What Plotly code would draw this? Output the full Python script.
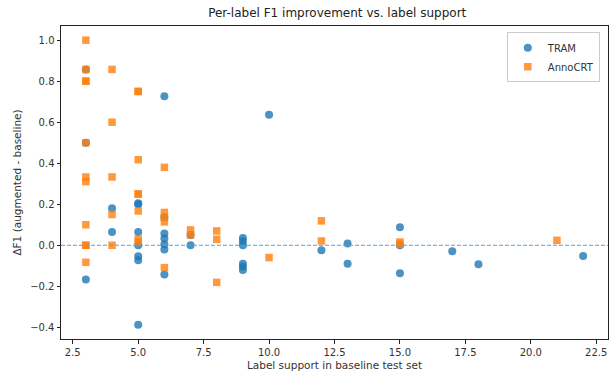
import plotly.graph_objects as go

# TRAM series
tram_support = [3, 3, 3,
                4, 4,
                5, 5, 5, 5, 5, 5, 5,
                6, 6, 6, 6, 6, 6, 6,
                7, 7,
                9, 9, 9, 9, 9, 9,
                10, 12, 13, 13,
                15, 15, 15,
                17, 18, 22]
tram_delta = [0.857, 0.5, -0.167,
              0.18, 0.065,
              0.2, 0.205, 0.065, 0.0, -0.054, -0.073, -0.388,
              0.726, 0.136, 0.057, 0.033, 0.005, -0.021, -0.143,
              0.05, 0.0,
              0.035, 0.02, 0.0, -0.09, -0.105, -0.12,
              0.636, -0.024, 0.008, -0.09,
              0.088, 0.0, -0.136,
              -0.029, -0.093, -0.052]

# AnnoCRT series
anno_support = [3, 3, 3, 3, 3, 3, 3, 3, 3, 3, 3,
                4, 4, 4, 4, 4,
                5, 5, 5, 5, 5, 5, 5, 5,
                6, 6, 6, 6, 6,
                7, 7,
                8, 8, 8,
                10, 12, 12,
                15, 15, 21]
anno_delta = [1.0, 0.857, 0.8, 0.8, 0.5, 0.333, 0.31, 0.1, 0.0, 0.0, -0.083,
              0.857, 0.6, 0.333, 0.15, 0.0,
              0.75, 0.75, 0.417, 0.25, 0.25, 0.167, 0.03, 0.015,
              0.38, 0.16, 0.136, 0.114, -0.109,
              0.075, 0.05,
              0.07, 0.029, -0.181,
              -0.06, 0.119, 0.021,
              0.016, 0.005, 0.024]

x_ticks = [2.5, 5.0, 7.5, 10.0, 12.5, 15.0, 17.5, 20.0, 22.5]
y_ticks = [-0.4, -0.2, 0.0, 0.2, 0.4, 0.6, 0.8, 1.0]

fig = go.Figure()
fig.add_trace(go.Scatter(
    x=tram_support, y=tram_delta, mode="markers", name="TRAM",
    marker=dict(symbol="circle", size=8, color="rgba(31,119,180,0.8)", line=dict(width=0)),
))
fig.add_trace(go.Scatter(
    x=anno_support, y=anno_delta, mode="markers", name="AnnoCRT",
    marker=dict(symbol="square", size=7.5, color="rgba(255,127,14,0.8)", line=dict(width=0)),
))
fig.add_shape(type="line", xref="paper", yref="y", x0=0, x1=1, y0=0, y1=0,
              line=dict(color="#5e9fd4", width=1.2, dash="4px,2px"), layer="above")

axis_common = dict(
    showline=True, mirror=True, linecolor="#222", linewidth=1,
    ticks="outside", ticklen=3.5, tickwidth=1, tickcolor="#222",
    showgrid=False, zeroline=False,
    tickfont=dict(family="DejaVu Sans", size=10, color="#333"),
)
fig.update_xaxes(range=[2.05, 22.95], tickvals=x_ticks,
                 ticktext=[f"{v:.1f}" for v in x_ticks],
                 title=dict(text="Label support in baseline test set",
                            font=dict(family="DejaVu Sans", size=10.5, color="#333"), standoff=5),
                 **axis_common)
fig.update_yaxes(range=[-0.457, 1.069], tickvals=y_ticks,
                 ticktext=[f"{v:.1f}".replace("-", "\u2212") for v in y_ticks],
                 title=dict(text="\u0394F1 (augmented - baseline)",
                            font=dict(family="DejaVu Sans", size=10.5, color="#333"), standoff=6),
                 **axis_common)

fig.update_layout(
    width=610, height=373,
    margin=dict(l=61, r=2, t=26, b=34),
    paper_bgcolor="white", plot_bgcolor="white",
    title=dict(text="Per-label F1 improvement vs. label support",
               xref="paper", x=0.505, xanchor="center",
               yref="container", y=0.977, yanchor="top",
               font=dict(family="DejaVu Sans", size=12, color="#222")),
    legend=dict(x=0.985, y=0.98, xanchor="right", yanchor="top",
                bgcolor="rgba(255,255,255,0.8)", bordercolor="#ccc", borderwidth=1,
                font=dict(family="DejaVu Sans", size=10, color="#333"),
                itemwidth=30, tracegroupgap=0),
    showlegend=True,
)

fig.write_html("out.html",
               config={"displayModeBar": False},
               post_script="document.body.style.margin='0';document.body.style.padding='0';")
